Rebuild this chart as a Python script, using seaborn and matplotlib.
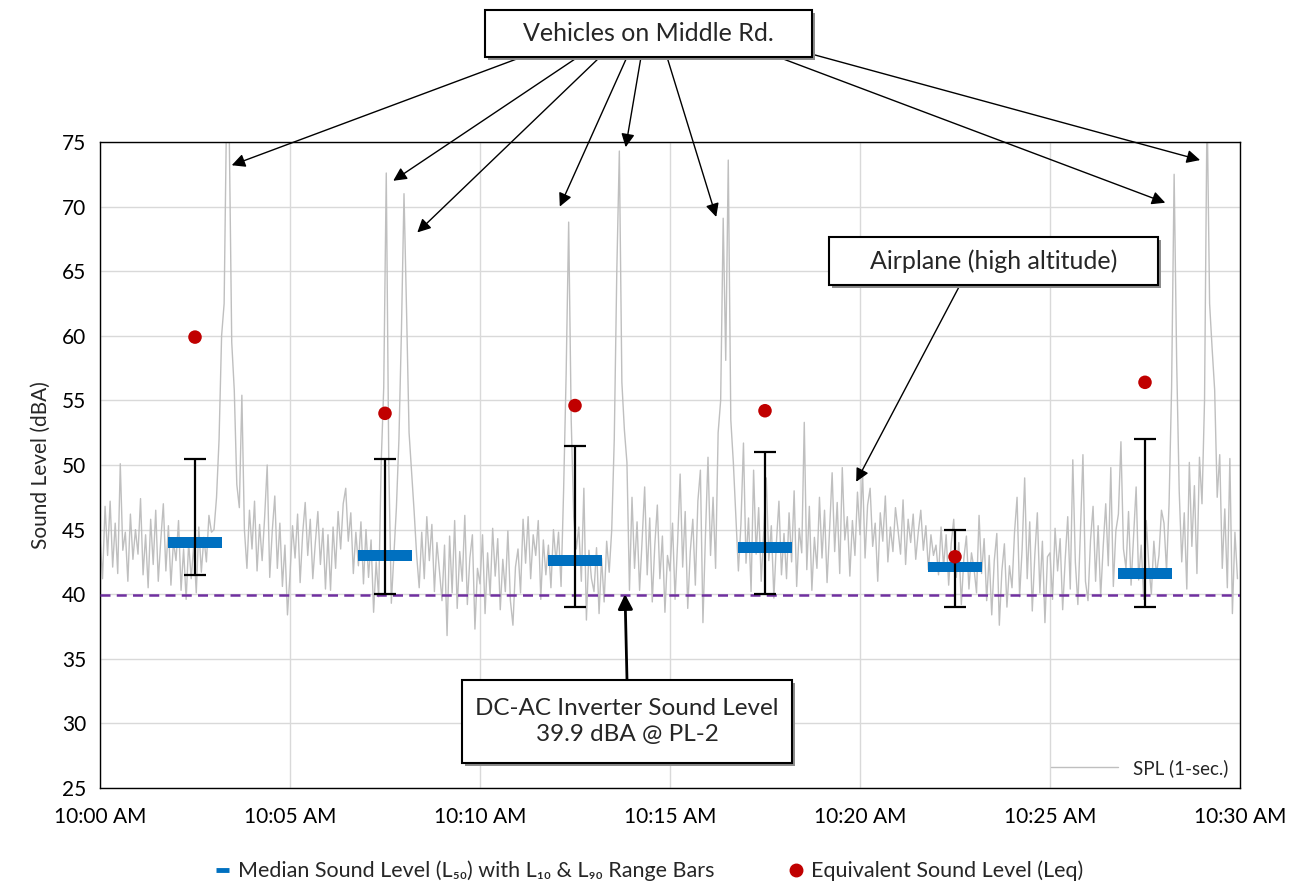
import numpy as np
import pandas as pd
import matplotlib
matplotlib.use("Agg")
import matplotlib.pyplot as plt
import matplotlib.dates as mdates
from matplotlib.patches import Rectangle
from matplotlib.lines import Line2D
import seaborn as sns

# ---------------- data ----------------
# 1-second SPL trace, every 4 s (one list per minute)
spl_min = [
    [44.5, 41.2, 46.8, 43.0, 47.2, 42.1, 45.5, 41.6, 50.1, 43.4, 44.8, 41.0, 46.2, 42.7, 45.0],
    [43.1, 47.4, 41.5, 44.6, 40.5, 45.8, 42.3, 46.5, 41.0, 44.2, 47.0, 41.8, 45.3, 40.7, 44.1],
    [42.6, 45.7, 40.3, 43.5, 39.6, 44.0, 41.2, 43.8, 40.1, 45.2, 41.7, 44.4, 42.5, 46.1, 44.8],
    [45.0, 47.5, 52.0, 60.0, 62.5, 78.0, 76.0, 59.5, 55.8, 48.5, 46.7, 55.4, 45.0, 42.0, 46.5],
    [43.5, 47.2, 41.8, 45.4, 42.6, 46.0, 50.0, 41.3, 44.9, 47.6, 42.0, 45.5, 40.6, 43.8, 38.4],
    [41.5, 45.3, 42.8, 46.2, 40.9, 44.7, 47.1, 43.0, 45.8, 41.2, 44.0, 46.4, 42.3, 45.1, 40.4],
    [44.6, 40.3, 45.2, 42.0, 46.4, 43.5, 47.0, 48.2, 44.1, 46.3, 41.6, 44.8, 42.2, 45.6, 40.8],
    [45.0, 41.3, 44.2, 38.6, 42.5, 39.8, 50.2, 56.0, 72.6, 50.0, 39.3, 43.0, 46.7, 52.0, 60.5],
    [71.0, 62.0, 52.5, 49.5, 46.4, 43.0, 40.5, 44.8, 41.2, 46.0, 42.6, 45.4, 40.2, 44.0, 41.8],
    [39.5, 43.8, 36.8, 44.5, 40.1, 45.7, 38.9, 43.3, 41.0, 46.1, 39.2, 42.8, 44.6, 37.3, 42.0],
    [40.8, 44.6, 38.5, 43.2, 39.9, 45.1, 41.4, 44.3, 38.8, 42.7, 40.2, 44.9, 39.5, 37.6, 42.1],
    [43.5, 40.1, 45.8, 42.4, 46.0, 41.2, 44.6, 43.0, 45.7, 39.6, 44.2, 41.5, 43.8, 40.5, 45.0],
    [42.5, 44.8, 40.6, 48.0, 57.0, 68.8, 53.5, 46.0, 43.5, 45.2, 41.0, 48.2, 38.0, 43.4, 41.2],
    [40.2, 43.6, 38.5, 42.8, 39.4, 44.1, 41.7, 45.0, 52.0, 65.0, 74.3, 56.4, 52.7, 50.2, 40.3],
    [47.5, 42.0, 45.6, 40.3, 44.2, 48.3, 41.5, 45.9, 39.4, 43.8, 46.9, 41.2, 44.5, 38.6, 43.0],
    [41.8, 45.5, 39.6, 44.0, 49.3, 42.1, 46.4, 38.9, 43.3, 45.8, 40.7, 47.2, 49.6, 37.8, 44.6],
    [50.6, 43.0, 47.5, 42.0, 52.5, 55.0, 69.1, 58.1, 73.6, 53.5, 50.2, 46.0, 41.8, 45.4, 51.7],
    [42.4, 45.9, 40.2, 49.6, 43.1, 46.7, 41.0, 44.8, 49.0, 42.6, 45.3, 39.7, 44.0, 47.2, 41.5],
    [44.7, 41.2, 46.3, 42.5, 48.0, 40.6, 45.1, 43.2, 53.3, 41.9, 46.8, 40.3, 44.4, 42.0, 47.5],
    [42.8, 46.5, 40.9, 45.0, 49.4, 43.3, 47.1, 41.6, 49.8, 44.2, 46.0, 41.4, 45.7, 43.0, 47.9],
    [44.6, 49.5, 42.8, 46.9, 48.2, 43.7, 45.5, 41.0, 46.3, 44.1, 47.6, 42.5, 45.2, 43.3, 46.7],
    [45.0, 43.1, 47.3, 42.3, 45.8, 44.0, 46.2, 42.7, 44.8, 46.5, 43.4, 45.3, 41.9, 44.6, 43.0],
    [43.8, 41.5, 45.2, 42.1, 44.6, 40.7, 43.9, 45.8, 41.3, 44.0, 39.2, 42.8, 44.5, 40.4, 43.2],
    [42.0, 40.1, 46.1, 41.6, 44.3, 39.5, 43.0, 38.4, 42.6, 44.7, 37.6, 41.8, 43.9, 39.0, 42.2],
    [40.5, 44.8, 47.5, 39.8, 43.5, 49.0, 41.2, 45.6, 38.7, 43.0, 46.3, 40.1, 44.1, 37.8, 42.9],
    [43.2, 39.6, 45.1, 41.8, 44.3, 38.8, 42.7, 46.0, 40.4, 50.4, 42.5, 39.2, 44.8, 50.8, 41.0],
    [39.5, 44.2, 46.8, 41.0, 45.3, 39.8, 43.7, 47.0, 42.2, 49.8, 40.6, 44.9, 46.2, 51.8, 43.5],
    [42.0, 46.4, 40.7, 44.5, 48.3, 41.1, 43.8, 39.6, 45.7, 42.3, 40.0, 44.1, 41.5, 43.0, 46.5],
    [45.5, 41.8, 47.0, 56.0, 72.5, 58.0, 48.0, 42.5, 46.3, 40.4, 50.2, 43.7, 48.4, 41.6, 50.6],
    [47.0, 55.0, 78.0, 62.5, 59.0, 55.8, 47.5, 50.8, 42.0, 46.6, 40.5, 50.5, 38.5, 44.8, 41.2],
]
spl_step_s = 4

# 5-minute interval statistics (plotted at interval mid-points)
interval_mid = ["10:02:30", "10:07:30", "10:12:30", "10:17:30", "10:22:30", "10:27:30"]
L50 = [44.0, 43.0, 42.6, 43.6, 42.1, 41.6]
L10 = [50.5, 50.5, 51.5, 51.0, 45.0, 52.0]
L90 = [41.5, 40.0, 39.0, 40.0, 39.0, 39.0]
Leq = [59.9, 54.0, 54.6, 54.2, 42.9, 56.4]

inverter_level = 39.9
y_ticks = [25, 30, 35, 40, 45, 50, 55, 60, 65, 70, 75]

# ---------------- frames ----------------
day = "2024-01-01 "
spl_values = np.concatenate([np.array(m, dtype=float) for m in spl_min])
t0 = pd.Timestamp(day + "10:00:00")
spl_time = t0 + pd.to_timedelta(np.arange(len(spl_values)) * spl_step_s, unit="s")
df_spl = pd.DataFrame({"time": spl_time, "SPL": spl_values})

df_stat = pd.DataFrame({
    "time": pd.to_datetime([day + s for s in interval_mid]),
    "L50": L50, "L10": L10, "L90": L90, "Leq": Leq,
})

# ---------------- style ----------------
sns.set_theme(style="white")
plt.rcParams["font.family"] = ["Lato", "DejaVu Sans"]

W, H = 1300, 889
fig = plt.figure(figsize=(W / 100, H / 100), dpi=100)
ax = fig.add_axes([100 / W, 1 - 788 / H, 1140 / W, 646 / H])

# SPL trace
sns.lineplot(data=df_spl, x="time", y="SPL", ax=ax, color="#BFBFBF",
             linewidth=1.0, label="SPL (1-sec.)", zorder=2)

# inverter level
ax.axhline(inverter_level, color="#7030A0", lw=1.8, ls=(0, (4, 2.5)), zorder=3)

# L50 bars (wide rectangle marker)
rect_marker = [(-5, -1), (5, -1), (5, 1), (-5, 1), (-5, -1)]
sns.scatterplot(data=df_stat, x="time", y="L50", ax=ax, marker=rect_marker,
                s=1500, color="#0070C0", edgecolor="none", linewidth=0,
                zorder=4, legend=False)

# L10 / L90 range bars
ax.errorbar(df_stat["time"], df_stat["L50"],
            yerr=[df_stat["L50"] - df_stat["L90"], df_stat["L10"] - df_stat["L50"]],
            fmt="none", ecolor="black", elinewidth=1.6, capsize=8, capthick=1.6,
            zorder=5)

# Leq dots
sns.scatterplot(data=df_stat, x="time", y="Leq", ax=ax, color="#C00000",
                s=95, edgecolor="none", zorder=6, legend=False)

# ---------------- axes ----------------
ax.set_xlim(pd.Timestamp(day + "10:00:00"), pd.Timestamp(day + "10:30:00"))
ax.set_ylim(25, 75)
ax.set_yticks(y_ticks)
ax.xaxis.set_major_locator(mdates.MinuteLocator(byminute=range(0, 60, 5)))
ax.xaxis.set_major_formatter(mdates.DateFormatter("%-I:%M %p"))
ax.grid(True, color="#D9D9D9", lw=1)
ax.set_axisbelow(True)
for s in ax.spines.values():
    s.set_color("black")
    s.set_linewidth(1.0)
ax.tick_params(axis="both", labelsize=15, length=0, colors="black")
ax.tick_params(axis="x", pad=14)
ax.tick_params(axis="y", pad=10)
ax.set_xlabel("")
ax.set_ylabel("Sound Level (dBA)", fontsize=15, labelpad=8)

ax.legend(loc="lower right", frameon=False, fontsize=13.5, handlelength=3.6,
          borderaxespad=0.2)

# bottom legend
h1 = Line2D([], [], color="#0070C0", lw=3.5, solid_capstyle="butt")
h2 = Line2D([], [], color="#C00000", marker="o", ls="none", markersize=9)
fig.legend([h1, h2],
           ["Median Sound Level (L\u2085\u2080) with L\u2081\u2080 & L\u2089\u2080 Range Bars",
            "Equivalent Sound Level (Leq)"],
           loc="center", bbox_to_anchor=(0.5, 1 - 871 / H), ncol=2, frameon=False,
           fontsize=15.5, handlelength=0.6, handletextpad=0.4, columnspacing=3.5)

# ---------------- annotations ----------------
def px(x, y):
    return (x / W, 1 - y / H)


def box(x0, y0, x1, y1, lines, fs=18):
    sh = Rectangle(px(x0 + 3, y1 + 3), (x1 - x0) / W, (y1 - y0) / H,
                   transform=fig.transFigure, facecolor="#8C8C8C",
                   edgecolor="none", zorder=19)
    rb = Rectangle(px(x0, y1), (x1 - x0) / W, (y1 - y0) / H,
                   transform=fig.transFigure, facecolor="white",
                   edgecolor="black", lw=1.5, zorder=20)
    fig.add_artist(sh)
    fig.add_artist(rb)
    fig.text((x0 + x1) / 2 / W, 1 - (y0 + y1) / 2 / H, lines, ha="center",
             va="center", fontsize=fs, zorder=21, linespacing=1.25)


def arrow(tail_px, head_time, head_val, lw=1.0, ms=20):
    ax.annotate("", xy=(pd.Timestamp(day + head_time), head_val),
                xycoords="data", xytext=px(*tail_px),
                textcoords="figure fraction",
                arrowprops=dict(arrowstyle="-|>", color="black", lw=lw,
                                mutation_scale=ms, shrinkA=0, shrinkB=0),
                zorder=18, annotation_clip=False)


# vehicles
veh_arrows = [
    ((522, 57), "10:03:28", 73.2),
    ((578, 57), "10:07:43", 72.0),
    ((600, 57), "10:08:21", 68.0),
    ((627, 57), "10:12:06", 70.0),
    ((641, 57), "10:13:50", 74.6),
    ((667, 57), "10:16:13", 69.2),
    ((778, 57), "10:28:02", 70.3),
    ((815, 55), "10:28:57", 73.6),
]
for tail, ht, hv in veh_arrows:
    arrow(tail, ht, hv)
box(485, 10, 812, 57, "Vehicles on Middle Rd.")

# airplane
arrow((960, 285), "10:19:54", 48.7)
box(829, 237, 1158, 285, "Airplane (high altitude)")

# inverter
arrow((627, 680), "10:13:49", 40.0, lw=2.0, ms=22)
box(462, 680, 792, 763, "DC-AC Inverter Sound Level\n39.9 dBA @ PL-2", fs=17.5)

fig.savefig("out.png", dpi=100)
